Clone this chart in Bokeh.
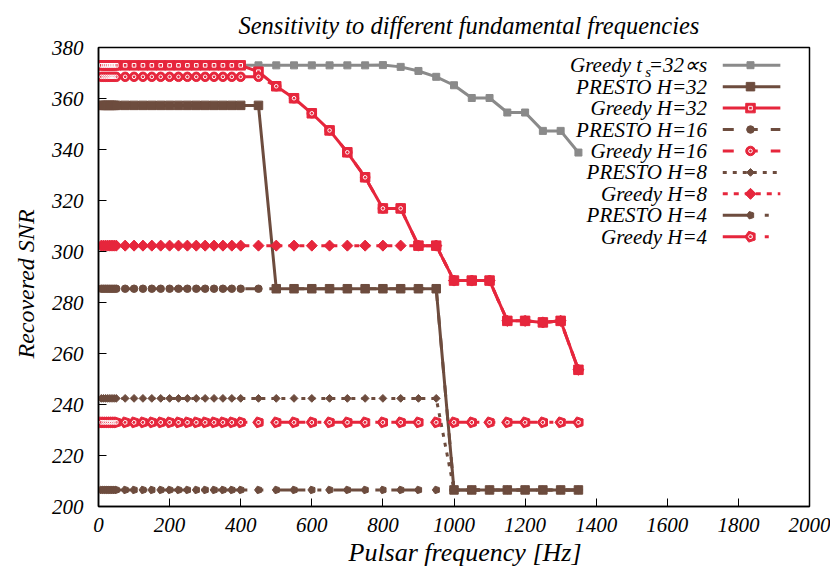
import math
from bokeh.plotting import figure
from bokeh.models import Range1d, FixedTicker, Title
from bokeh.core.properties import value
from bokeh.embed import file_html
from bokeh.resources import INLINE

# ---------------- data ----------------
freq = [8, 14, 20, 26, 32, 38, 44, 50, 75, 100, 125, 150, 175, 200, 225, 250, 275, 300, 325, 350, 375, 400,
        450, 500, 550, 600, 650, 700, 750, 800, 850, 900, 950, 1000, 1050, 1100, 1150, 1200, 1250, 1300, 1350]

greedy_ts32 = [373.0] * 29 + [373.1, 372.4, 370.8, 368.5, 365.2, 360.2, 360.2, 354.5, 354.5, 347.3, 347.3, 338.8]
presto_h32 = [357.3] * 23 + [285.4] * 10 + [206.5] * 8
greedy_h32 = [373.0] * 22 + [370.5, 364.8, 360.1, 354.2, 347.5, 338.9, 329.1, 316.9, 316.9, 302.3, 302.3,
                             288.6, 288.6, 288.6, 272.8, 272.8, 272.2, 272.8, 253.6]
presto_h16 = [285.4] * 33 + [206.5] * 8
greedy_h16 = [368.5] * 23 + [364.8, 360.1, 354.2, 347.5, 338.9, 329.1, 316.9, 316.9, 302.3, 302.3,
                             288.6, 288.6, 288.6, 272.8, 272.8, 272.2, 272.8, 253.6]
presto_h8 = [242.4] * 33 + [206.5] * 8
greedy_h8 = [302.3] * 33 + [288.6, 288.6, 288.6, 272.8, 272.8, 272.2, 272.8, 253.6]
presto_h4 = [206.5] * 41
greedy_h4 = [233.0] * 41

labels = ["Greedy t", "PRESTO H=32", "Greedy H=32", "PRESTO H=16", "Greedy H=16",
          "PRESTO H=8", "Greedy H=8", "PRESTO H=4", "Greedy H=4"]

x_ticks = [0, 200, 400, 600, 800, 1000, 1200, 1400, 1600, 1800, 2000]
y_ticks = [200, 220, 240, 260, 280, 300, 320, 340, 360, 380]

# ---------------- styles ----------------
GRAY = "#8a8a8a"
BROWN = "#6d4c3e"
RED = "#e6263c"
FONT = "Liberation Serif"

series = [
    # values, color, dash, marker, size, inner
    (greedy_ts32, GRAY, "solid", "square", 7, False),
    (presto_h32, BROWN, "solid", "square", 8.5, False),
    (greedy_h32, RED, "solid", "square", 9.5, True),
    (presto_h16, BROWN, "11 13", "circle", 7.5, False),
    (greedy_h16, RED, "11 13", "circle", 9.5, True),
    (presto_h8, BROWN, "4 6", "diam", 5.5, False),
    (greedy_h8, RED, "5 6", "diam", 7.8, False),
    (presto_h4, BROWN, "30 12 4 12", "pent", 3.9, False),
    (greedy_h4, RED, "30 12 4 12", "pent", 5.7, True),
]

p = figure(width=830, height=575, output_backend="svg", toolbar_location=None,
           x_range=Range1d(0, 2000), y_range=Range1d(200, 380),
           min_border_left=97, min_border_right=21, min_border_top=47, min_border_bottom=69)
p.extra_x_ranges = {"leg": Range1d(0, 1)}
p.extra_y_ranges = {"leg": Range1d(0, 1)}

p.title.text = "Sensitivity to different fundamental frequencies"
p.title.align = "left"
p.title.offset = 140
p.title.standoff = 17
p.title.text_font = FONT
p.title.text_font_style = "italic"
p.title.text_font_size = "24.5px"
p.title.text_color = "black"

p.grid.visible = False
p.outline_line_color = "black"
p.outline_line_width = 1.5
p.background_fill_color = "white"
p.border_fill_color = "white"

for ax in (p.xaxis[0], p.yaxis[0]):
    ax.major_label_text_font = FONT
    ax.major_label_text_font_style = "italic"
    ax.major_label_text_font_size = "21px"
    ax.major_label_text_color = "black"
    ax.major_tick_in = 8
    ax.major_tick_out = 0
    ax.minor_tick_in = 0
    ax.minor_tick_out = 0
    ax.axis_line_color = "black"
    ax.axis_line_width = 1.5
    ax.major_tick_line_color = "black"

p.xaxis.ticker = FixedTicker(ticks=x_ticks)
p.yaxis.ticker = FixedTicker(ticks=y_ticks)
p.xaxis.major_label_standoff = 11
p.yaxis.major_label_standoff = 15

xlab = Title(text="Pulsar frequency [Hz]", align="left", offset=250, standoff=3,
             text_font=FONT, text_font_style="italic", text_font_size="26px", text_color="black")
p.add_layout(xlab, "below")
ylab = Title(text="Recovered SNR", align="left", offset=148, standoff=20,
             text_font=FONT, text_font_style="italic", text_font_size="24px", text_color="black")
p.add_layout(ylab, "left")


def draw_marker(xs, ys, color, marker, size, inner, **kw):
    if marker == "pent":
        try:
            p.ngon(x=xs, y=ys, radius=size, radius_units="screen", n=5, angle=math.pi / 2,
                   fill_color=color, line_color=color, **kw)
            if inner:
                p.ngon(x=xs, y=ys, radius=size * 0.38, radius_units="screen", n=5, angle=math.pi / 2,
                       fill_color=None, line_color="white", line_width=1, **kw)
            return
        except Exception:
            marker = "hex"
            size = size * 2
    ang = 0.0
    if marker == "diam":
        marker, ang = "square", math.pi / 4
    p.scatter(x=xs, y=ys, marker=marker, size=size, angle=ang, fill_color=color, line_color=color, **kw)
    if inner:
        p.scatter(x=xs, y=ys, marker=marker, size=size * 0.38, angle=ang, fill_color=None,
                  line_color="white", line_width=1, **kw)


for vals, color, dash, marker, size, inner in series:
    p.line(freq, vals, line_color=color, line_width=3, line_dash=dash)
    draw_marker(freq, vals, color, marker, size, inner)

# ---------------- legend (label left, sample right) ----------------
LEG_X0, LEG_X1, LEG_XM, LEG_TX = 0.878, 0.959, 0.917, 0.856
LEG_Y0, LEG_DY = 0.9614, 0.0467
lk = dict(x_range_name="leg", y_range_name="leg")
tk = dict(text_font=value(FONT), text_font_style="italic", text_font_size="21px",
          text_color="black", text_baseline="middle")
for i, (vals, color, dash, marker, size, inner) in enumerate(series):
    yy = LEG_Y0 - i * LEG_DY
    p.line([LEG_X0, LEG_X1], [yy, yy], line_color=color, line_width=3, line_dash=dash, **lk)
    draw_marker([LEG_XM], [yy], color, marker, size, inner, **lk)
    if i == 0:
        p.text(x=[LEG_TX], y=[yy], text=["=32\u221ds"], text_align="right", **tk, **lk)
        p.text(x=[LEG_TX], y=[yy], text=["s"], text_align="right", x_offset=-56, y_offset=7,
               text_font=value(FONT), text_font_style="italic", text_font_size="15px",
               text_color="black", text_baseline="middle", **lk)
        p.text(x=[LEG_TX], y=[yy], text=[labels[0]], text_align="right", x_offset=-65, **tk, **lk)
    else:
        p.text(x=[LEG_TX], y=[yy], text=[labels[i]], text_align="right", **tk, **lk)

open("out.html", "w").write(file_html(p, INLINE))
